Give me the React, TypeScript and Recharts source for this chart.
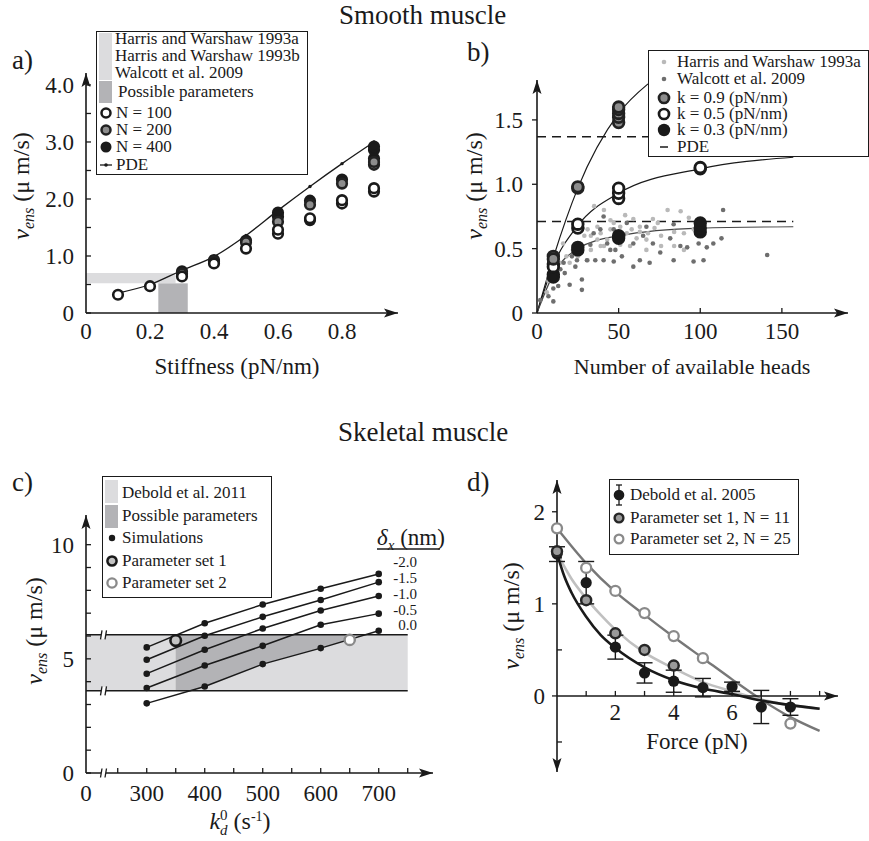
import React from 'react';
import { ComposedChart, Line, Scatter, Area, XAxis, YAxis, ReferenceArea, ErrorBar } from 'recharts';

const W = 869;
const H = 841;
const YW = 40;
const XH = 30;
const FONT = '"Liberation Serif", "Times New Roman", serif';
const INK = '#1a1a1a';
const LIGHT = '#dcdcde';
const DARK = '#b3b3b6';
const AXL = { stroke: INK, strokeWidth: 1.6 };

type P = [number, number];
const xy = (pts: P[]) => pts.map(([x, y]) => ({ x, y }));

// ---------- a) smooth muscle, stiffness ----------
const aXDom = [0, 0.975];
const aYDom = [0, 4.21];
const aXTicks = [0, 0.2, 0.4, 0.6, 0.8];
const aXLabels = ['0', '0.2', '0.4', '0.6', '0.8'];
const aYTicks = [0, 0.5, 1, 1.5, 2, 2.5, 3, 3.5, 4];
const aYLabels = ['0', '', '1.0', '', '2.0', '', '3.0', '', '4.0'];
const aExpX = [0, 0.28];
const aExpY = [0.52, 0.7];
const aPossX = [0.226, 0.318];
const aPde: P[] = [[0.1, 0.35], [0.2, 0.5], [0.3, 0.75], [0.4, 0.99], [0.5, 1.36], [0.6, 1.8], [0.7, 2.22], [0.8, 2.62], [0.9, 3.0]];
const aN100: P[] = [[0.1, 0.32], [0.2, 0.47], [0.3, 0.64], [0.4, 0.87], [0.5, 1.13], [0.6, 1.39], [0.6, 1.46], [0.7, 1.63], [0.7, 1.66], [0.8, 1.92], [0.8, 1.98], [0.9, 2.13], [0.9, 2.19]];
const aN200: P[] = [[0.3, 0.69], [0.4, 0.9], [0.5, 1.24], [0.6, 1.6], [0.7, 1.9], [0.8, 2.27], [0.9, 2.6], [0.9, 2.65]];
const aN400: P[] = [[0.3, 0.73], [0.4, 0.93], [0.5, 1.27], [0.6, 1.69], [0.6, 1.76], [0.7, 1.97], [0.8, 2.34], [0.9, 2.71], [0.9, 2.86], [0.9, 2.92]];

// ---------- b) smooth muscle, heads ----------
const bXDom = [0, 190.5];
const bYDom = [0, 1.81];
const bXTicks = [0, 50, 100, 150];
const bXLabels = ['0', '50', '100', '150'];
const bYTicks = [0, 0.5, 1, 1.5];
const bYLabels = ['0', '0.5', '1.0', '1.5'];
const bHarris: P[] = [
  [35, 0.83], [41, 0.8], [54, 0.76], [59, 0.73], [80, 0.8], [88, 0.79], [93, 0.74], [71, 0.73], [74, 0.7], [63, 0.67],
  [47, 0.7], [37, 0.67], [31, 0.65], [29, 0.6], [26, 0.54], [22, 0.49], [18, 0.44], [14, 0.39], [11, 0.34], [9, 0.3],
  [7, 0.25], [33, 0.6], [39, 0.62], [43, 0.57], [49, 0.6], [55, 0.62], [61, 0.58], [67, 0.57], [76, 0.6], [84, 0.63],
  [90, 0.62], [96, 0.65], [41, 0.52], [51, 0.53], [57, 0.52], [67, 0.49], [76, 0.52], [33, 0.49], [25, 0.44], [31, 0.41],
  [39, 0.52], [58, 0.65], [63, 0.63], [45, 0.65], [37, 0.57], [51, 0.67], [84, 0.52], [90, 0.49], [16, 0.54], [12, 0.41],
  [20, 0.39], [6, 0.16], [45, 0.72], [68, 0.62], [52, 0.58], [28, 0.66], [100, 0.6], [72, 0.66],
];
const bWalcott: P[] = [
  [2, 0.1], [7, 0.13], [10, 0.09], [10, 0.19], [13, 0.21], [11, 0.27], [17, 0.31], [20, 0.22], [23.5, 0.36], [27.5, 0.26],
  [30.6, 0.41], [35.7, 0.41], [40.8, 0.41], [44.9, 0.49], [47, 0.4], [52, 0.44], [59, 0.36], [63, 0.41], [69, 0.39], [75.5, 0.47],
  [83.7, 0.41], [87.8, 0.52], [95.9, 0.4], [102, 0.41], [104, 0.51], [108, 0.54], [113, 0.58], [114, 0.8], [141, 0.45], [99, 0.54],
  [92, 0.51], [81.6, 0.58], [71, 0.54], [65, 0.6], [59, 0.54], [53, 0.61], [48, 0.49], [43, 0.54], [38.8, 0.65], [34.7, 0.62],
  [32.7, 0.53], [26.5, 0.48], [24.5, 0.41], [21.4, 0.44], [16.3, 0.39], [14.3, 0.34], [27.5, 0.18], [8, 0.28], [98, 0.71], [100, 0.62],
  [83.7, 0.69], [67, 0.67], [55, 0.7], [47, 0.65], [40.8, 0.75],
];
const bK09: P[] = [[10, 0.44], [10, 0.42], [25, 0.97], [25, 0.98], [50, 1.48], [50, 1.52], [50, 1.55], [50, 1.58], [50, 1.6]];
const bK05: P[] = [[10, 0.38], [10, 0.36], [25, 0.66], [25, 0.69], [50, 0.89], [50, 0.93], [50, 0.97], [100, 1.12], [100, 1.13]];
const bK03: P[] = [[10, 0.3], [10, 0.28], [25, 0.49], [25, 0.51], [50, 0.58], [50, 0.6], [100, 0.63], [100, 0.66], [100, 0.7]];
const bFit09: P[] = [[0, 0], [10, 0.43], [25, 0.97], [50, 1.55], [68, 1.78]];
const bFit05: P[] = [[0, 0], [10, 0.37], [25, 0.68], [50, 0.93], [100, 1.12], [157, 1.21]];
const bFit03: P[] = [[0, 0], [10, 0.3], [25, 0.5], [50, 0.6], [100, 0.66], [157, 0.67]];
const bPdeHigh: P[] = [[0, 1.37], [100, 1.37]];
const bPdeLow: P[] = [[0, 0.71], [157, 0.71]];

// ---------- c) skeletal muscle, kd0 ----------
const cXDom = [195.3, 793.6];
const cYDom = [0, 11.3];
const cXTicks = [195.3, 250, 300, 350, 400, 450, 500, 550, 600, 650, 700, 750];
const cXLabels = ['0', '', '300', '', '400', '', '500', '', '600', '', '700', ''];
const cYTicks = [0, 1, 2, 3, 4, 5, 6, 7, 8, 9, 10];
const cYLabels = ['0', '', '', '', '', '5', '', '', '', '', '10'];
const cK = [300, 400, 500, 600, 700];
const cDelta = ['-2.0', '-1.5', '-1.0', '-0.5', '0.0'];
const cV = [
  [5.5, 6.56, 7.38, 8.07, 8.72],
  [4.96, 6.01, 6.84, 7.58, 8.36],
  [4.35, 5.4, 6.33, 7.12, 7.75],
  [3.72, 4.71, 5.57, 6.49, 6.98],
  [3.05, 3.79, 4.77, 5.47, 6.23],
];
const cBandX = [195.3, 750];
const cBand = [3.6, 6.05];
const cPossX = [350, 374, 400, 500, 600, 650];
const cPossLow = [3.6, 3.6, 3.79, 4.77, 5.47, 5.85];
const cSet1: P[] = [[350, 5.8]];
const cSet2: P[] = [[650, 5.83]];

// ---------- d) skeletal muscle, force ----------
const dXDom = [0, 9.63];
const dYDom = [-0.826, 2.345];
const dXTicks = [1, 2, 3, 4, 5, 6, 7, 8, 9];
const dXLabels = ['', '2', '', '4', '', '6', '', '', ''];
const dYTicks = [-0.5, 0, 0.5, 1, 1.5, 2];
const dYLabels = ['', '0', '', '1', '', '2'];
const dForce = [0, 1, 2, 3, 4, 5, 6, 7, 8];
const dDebold = [1.54, 1.23, 0.53, 0.25, 0.16, 0.09, 0.1, -0.12, -0.12];
const dDeboldErr = [0.08, 0.23, 0.13, 0.11, 0.12, 0.1, 0.05, 0.18, 0.09];
const dSet1: P[] = [[0, 1.57], [1, 1.04], [2, 0.68], [3, 0.5], [4, 0.33]];
const dSet2: P[] = [[0, 1.82], [1, 1.39], [2, 1.14], [3, 0.9], [4, 0.65], [5, 0.41], [8, -0.3]];
const dFitDebold: P[] = [[0, 1.55], [0.25, 1.3], [0.5, 1.12], [1, 0.86], [1.5, 0.66], [2, 0.52], [3, 0.31], [4, 0.17], [5, 0.08], [6, 0.02], [7, -0.05], [8, -0.1], [9, -0.14]];
const dFitSet1: P[] = [[0, 1.55], [0.5, 1.27], [1, 1.06], [1.5, 0.88], [2, 0.72], [3, 0.47], [4, 0.3], [5, 0.15], [6, 0.05], [7, -0.04], [8, -0.1], [9, -0.14]];
const dFitSet2: P[] = [[0, 1.82], [1, 1.44], [2, 1.13], [3, 0.88], [4, 0.64], [5, 0.41], [6, 0.18], [7, -0.04], [8, -0.23], [9, -0.38]];

// plot frames (pixel box of each plot area)
const FA = { l: 86, r: 398, t: 73, b: 313 };
const FB = { l: 537, r: 848, t: 80, b: 313 };
const FC = { l: 86, r: 433, t: 515, b: 773 };
const FD = { l: 557, r: 838, t: 480, b: 772 };
const dZeroY = FD.b - ((0 - dYDom[0]) / (dYDom[1] - dYDom[0])) * (FD.b - FD.t);
const cPix = (v: number) => FC.b - (v / cYDom[1]) * (FC.b - FC.t);

const xTick = (ticks: number[], labels: string[], m: number, marks: boolean, dmin: number) => (p: any) => {
  const v = p.payload.value;
  const i = ticks.indexOf(v);
  const lab = i >= 0 ? labels[i] : '';
  const ay = p.y - m;
  return (
    <g>
      {marks && v !== dmin && <line x1={p.x} x2={p.x} y1={ay} y2={ay - 5} stroke={INK} strokeWidth={1.3} />}
      {lab && (
        <text x={p.x} y={p.y} dy="0.71em" textAnchor="middle" fontFamily={FONT} fontSize={23} fill={INK}>
          {lab}
        </text>
      )}
    </g>
  );
};

const yTick = (ticks: number[], labels: string[], m: number, mode: 'in' | 'out' | 'mixed') => (p: any) => {
  const v = p.payload.value;
  const i = ticks.indexOf(v);
  const lab = i >= 0 ? labels[i] : '';
  const ax = p.x + m;
  const out = mode === 'out' || (mode === 'mixed' && lab !== '');
  return (
    <g>
      <line x1={out ? ax - 5 : ax} x2={out ? ax : ax + 5} y1={p.y} y2={p.y} stroke={INK} strokeWidth={1.3} />
      {lab && (
        <text x={p.x} y={p.y} dy="0.35em" textAnchor="end" fontFamily={FONT} fontSize={23} fill={INK}>
          {lab}
        </text>
      )}
    </g>
  );
};

const ring = (fill: string, stroke: string, r: number, sw: number) => (p: any) => (
  <circle cx={p.cx} cy={p.cy} r={r} fill={fill} stroke={stroke} strokeWidth={sw} />
);
const dot = (fill: string, r: number) => (p: any) => <circle cx={p.cx} cy={p.cy} r={r} fill={fill} />;

function Chart({ f, xh = XH, yw = YW, children }: any) {
  return (
    <div style={{ position: 'absolute', left: 0, top: 0 }}>
      <ComposedChart
        width={W}
        height={H}
        margin={{ left: f.l - yw, right: W - f.r, top: f.t, bottom: H - f.b - xh }}
      >
        {children}
      </ComposedChart>
    </div>
  );
}

function T({ x, y, s = 17, anchor = 'start', children, style }: any) {
  const tx = anchor === 'middle' ? 'translateX(-50%)' : anchor === 'end' ? 'translateX(-100%)' : undefined;
  const lh = s * 0.9;
  return (
    <div
      style={{
        position: 'absolute',
        left: x,
        top: y - lh / 2,
        fontSize: s,
        lineHeight: `${lh}px`,
        fontFamily: FONT,
        color: INK,
        whiteSpace: 'nowrap',
        transform: tx,
        ...style,
      }}
    >
      {children}
    </div>
  );
}

// rotated y-axis title, drawn as svg text
function VLabel({ x, y }: { x: number; y: number }) {
  return (
    <text
      x={x}
      y={y}
      transform={`rotate(-90 ${x} ${y})`}
      textAnchor="middle"
      dy="0.35em"
      fontFamily={FONT}
      fontSize={24}
      fill={INK}
    >
      <tspan fontStyle="italic">v</tspan>
      <tspan fontStyle="italic" fontSize={16} dy={5}>ens</tspan>
      <tspan dy={-5}>{' (\u03bc m/s)'}</tspan>
    </text>
  );
}

function Mk({ x, y, children }: any) {
  return (
    <svg style={{ position: 'absolute', left: x - 10, top: y - 12 }} width={20} height={24}>
      <g transform="translate(10,12)">{children}</g>
    </svg>
  );
}

function Box({ l, t, w, h }: any) {
  return (
    <div
      style={{
        position: 'absolute',
        left: l,
        top: t,
        width: w,
        height: h,
        border: `1.5px solid ${INK}`,
        background: '#fff',
        boxSizing: 'border-box',
      }}
    />
  );
}

const Sw = ({ l, t, w, h, c }: any) => (
  <div style={{ position: 'absolute', left: l, top: t, width: w, height: h, background: c }} />
);

const arrowUp = (x: number, y: number) => `${x},${y} ${x - 4.5},${y + 14} ${x},${y + 11} ${x + 4.5},${y + 14}`;
const arrowDown = (x: number, y: number) => `${x},${y} ${x - 4.5},${y - 14} ${x},${y - 11} ${x + 4.5},${y - 14}`;
const arrowRight = (x: number, y: number) => `${x},${y} ${x - 14},${y - 4.5} ${x - 11},${y} ${x - 14},${y + 4.5}`;

function Break({ x, y }: { x: number; y: number }) {
  return (
    <g>
      <rect x={x} y={y - 4} width={5} height={8} fill="#fff" />
      <line x1={x - 0.5} y1={y + 4.5} x2={x + 1} y2={y - 4.5} stroke={INK} strokeWidth={1.3} />
      <line x1={x + 4} y1={y + 4.5} x2={x + 5.5} y2={y - 4.5} stroke={INK} strokeWidth={1.3} />
    </g>
  );
}

export default function App() {
  const cBandRows = cBandX.map((x) => ({ x, r: cBand }));
  const cPossRows = cPossX.map((x, i) => ({ x, r: [cPossLow[i], cBand[1]] }));
  const dDeboldRows = dForce.map((x, i) => ({ x, y: dDebold[i], e: dDeboldErr[i] }));

  return (
    <div
      style={{
        position: 'absolute',
        left: 0,
        top: 0,
        width: W,
        height: H,
        background: '#fff',
        overflow: 'hidden',
        fontFamily: FONT,
      }}
    >
      {/* a) */}
      <Chart f={FA}>
        <XAxis type="number" dataKey="x" domain={aXDom} ticks={aXTicks} interval={0} height={XH} tickLine={false} tickSize={0} tickMargin={10} axisLine={AXL} tick={xTick(aXTicks, aXLabels, 10, false, aXDom[0])} />
        <YAxis type="number" dataKey="y" domain={aYDom} ticks={aYTicks} interval={0} width={YW} tickLine={false} tickSize={0} tickMargin={12} axisLine={AXL} tick={yTick(aYTicks, aYLabels, 12, 'in')} />
        <ReferenceArea x1={aExpX[0]} x2={aExpX[1]} y1={aExpY[0]} y2={aExpY[1]} fill={LIGHT} fillOpacity={1} stroke="none" />
        <ReferenceArea x1={aPossX[0]} x2={aPossX[1]} y1={0} y2={aExpY[0]} fill={DARK} fillOpacity={1} stroke="none" />
        <Line data={xy(aPde)} dataKey="y" type="monotone" stroke={INK} strokeWidth={1.3} dot={{ r: 1.7, fill: INK, stroke: 'none' }} isAnimationActive={false} />
        <Scatter data={xy(aN400)} shape={ring(INK, INK, 4.8, 2.6)} isAnimationActive={false} />
        <Scatter data={xy(aN200)} shape={ring('#8d8d8d', '#222', 4.8, 2.6)} isAnimationActive={false} />
        <Scatter data={xy(aN100)} shape={ring('#fff', INK, 4.8, 2.6)} isAnimationActive={false} />
      </Chart>

      {/* b) */}
      <Chart f={FB}>
        <XAxis type="number" dataKey="x" domain={bXDom} ticks={bXTicks} interval={0} height={XH} tickLine={false} tickSize={0} tickMargin={10} axisLine={AXL} tick={xTick(bXTicks, bXLabels, 10, true, bXDom[0])} />
        <YAxis type="number" dataKey="y" domain={bYDom} ticks={bYTicks} interval={0} width={YW} tickLine={false} tickSize={0} tickMargin={14} axisLine={AXL} tick={yTick(bYTicks, bYLabels, 14, 'out')} />
        <Scatter data={xy(bHarris)} shape={dot('#b9b9b9', 2.3)} isAnimationActive={false} />
        <Scatter data={xy(bWalcott)} shape={dot('#6e6e6e', 2.3)} isAnimationActive={false} />
        <Line data={xy(bPdeHigh)} dataKey="y" type="linear" stroke={INK} strokeWidth={1.5} strokeDasharray="9 6" dot={false} isAnimationActive={false} />
        <Line data={xy(bPdeLow)} dataKey="y" type="linear" stroke={INK} strokeWidth={1.5} strokeDasharray="9 6" dot={false} isAnimationActive={false} />
        <Line data={xy(bFit09)} dataKey="y" type="monotone" stroke={INK} strokeWidth={1.2} dot={false} isAnimationActive={false} />
        <Line data={xy(bFit05)} dataKey="y" type="monotone" stroke={INK} strokeWidth={1.2} dot={false} isAnimationActive={false} />
        <Line data={xy(bFit03)} dataKey="y" type="monotone" stroke="#444" strokeWidth={1.2} dot={false} isAnimationActive={false} />
        <Scatter data={xy(bK03)} shape={ring(INK, INK, 5.3, 2.8)} isAnimationActive={false} />
        <Scatter data={xy(bK05)} shape={ring('#fff', INK, 5.3, 2.8)} isAnimationActive={false} />
        <Scatter data={xy(bK09)} shape={ring('#8d8d8d', '#222', 5.3, 2.8)} isAnimationActive={false} />
      </Chart>

      {/* c) */}
      <Chart f={FC}>
        <XAxis type="number" dataKey="x" domain={cXDom} ticks={cXTicks} interval={0} height={XH} tickLine={false} tickSize={0} tickMargin={12} axisLine={AXL} tick={xTick(cXTicks, cXLabels, 12, true, cXDom[0])} />
        <YAxis type="number" dataKey="y" domain={cYDom} ticks={cYTicks} interval={0} width={YW} tickLine={false} tickSize={0} tickMargin={12} axisLine={AXL} tick={yTick(cYTicks, cYLabels, 12, 'in')} />
        <Area data={cBandRows} dataKey="r" type="linear" stroke="none" fill={LIGHT} fillOpacity={1} dot={false} activeDot={false} isAnimationActive={false} />
        <Area data={cPossRows} dataKey="r" type="linear" stroke="none" fill={DARK} fillOpacity={1} dot={false} activeDot={false} isAnimationActive={false} />
        {cBand.map((v, i) => (
          <Line key={`band${i}`} data={cBandX.map((x) => ({ x, y: v }))} dataKey="y" type="linear" stroke={INK} strokeWidth={1.5} dot={false} isAnimationActive={false} />
        ))}
        {cV.map((vals, i) => (
          <Line key={`d${i}`} data={cK.map((x, j) => ({ x, y: vals[j] }))} dataKey="y" type="linear" stroke={INK} strokeWidth={1.5} dot={{ r: 3.3, fill: INK, stroke: 'none' }} isAnimationActive={false} />
        ))}
        <Scatter data={xy(cSet1)} shape={ring('#c4c4c4', INK, 5.3, 2.6)} isAnimationActive={false} />
        <Scatter data={xy(cSet2)} shape={ring('#fff', '#8a8a8a', 5.1, 2.4)} isAnimationActive={false} />
      </Chart>

      {/* d) */}
      <Chart f={FD} xh={0}>
        <XAxis hide type="number" dataKey="x" domain={dXDom} />
        <YAxis type="number" dataKey="y" domain={dYDom} ticks={dYTicks} interval={0} width={YW} tickLine={false} tickSize={0} tickMargin={12} axisLine={AXL} tick={yTick(dYTicks, dYLabels, 12, 'mixed')} />
        <Line data={xy(dFitSet2)} dataKey="y" type="monotone" stroke="#777" strokeWidth={2.4} dot={false} isAnimationActive={false} />
        <Line data={xy(dFitSet1)} dataKey="y" type="monotone" stroke="#c0c0c0" strokeWidth={2.6} dot={false} isAnimationActive={false} />
        <Line data={xy(dFitDebold)} dataKey="y" type="monotone" stroke={INK} strokeWidth={2.6} dot={false} isAnimationActive={false} />
        <Scatter data={dDeboldRows} shape={dot(INK, 5.6)} isAnimationActive={false}>
          <ErrorBar dataKey="e" direction="y" width={8} stroke={INK} strokeWidth={1.4} />
        </Scatter>
        <Scatter data={xy(dSet1)} shape={ring('#9a9a9a', '#262626', 5, 2.5)} isAnimationActive={false} />
        <Scatter data={xy(dSet2)} shape={ring('#fff', '#8a8a8a', 5, 2.3)} isAnimationActive={false} />
      </Chart>
      <Chart f={{ ...FD, b: dZeroY }} yw={0}>
        <XAxis type="number" dataKey="x" domain={dXDom} allowDataOverflow ticks={dXTicks} interval={0} height={XH} tickLine={false} tickSize={0} tickMargin={8} axisLine={AXL} tick={xTick(dXTicks, dXLabels, 8, true, dXDom[0])} />
        <YAxis hide type="number" domain={[0, 1]} allowDataOverflow />
      </Chart>

      {/* arrows, axis breaks, rotated titles */}
      <svg style={{ position: 'absolute', left: 0, top: 0 }} width={W} height={H}>
        <polygon points={arrowUp(FA.l, FA.t)} fill={INK} />
        <polygon points={arrowRight(FA.r, FA.b)} fill={INK} />
        <polygon points={arrowUp(FB.l, FB.t)} fill={INK} />
        <polygon points={arrowRight(FB.r, FB.b)} fill={INK} />
        <polygon points={arrowUp(FC.l, FC.t)} fill={INK} />
        <polygon points={arrowRight(FC.r, FC.b)} fill={INK} />
        <polygon points={arrowUp(FD.l, FD.t)} fill={INK} />
        <polygon points={arrowDown(FD.l, FD.b)} fill={INK} />
        <polygon points={arrowRight(FD.r, dZeroY)} fill={INK} />
        <Break x={101} y={FC.b} />
        <Break x={101} y={cPix(cBand[0])} />
        <Break x={101} y={cPix(cBand[1])} />
        <line x1={377} x2={440} y1={549} y2={549} stroke={INK} strokeWidth={1.5} />
        <VLabel x={21} y={186} />
        <VLabel x={474} y={186} />
        <VLabel x={34} y={631} />
        <VLabel x={511} y={616} />
        <text x={240} y={829} textAnchor="middle" fontFamily={FONT} fontSize={24} fill={INK}>
          <tspan fontStyle="italic">k</tspan>
          <tspan fontSize={15} dy={-9}>0</tspan>
          <tspan fontSize={15} fontStyle="italic" dx={-7.5} dy={15}>d</tspan>
          <tspan dy={-6}>{' (s'}</tspan>
          <tspan fontSize={14} dy={-8}>-1</tspan>
          <tspan dy={8}>)</tspan>
        </text>
      </svg>

      {/* titles */}
      <T x={339} y={15} s={27}>Smooth muscle</T>
      <T x={338} y={432} s={27}>Skeletal muscle</T>
      <T x={12} y={60} s={27}>a)</T>
      <T x={467} y={52} s={27}>b)</T>
      <T x={12} y={482} s={27}>c)</T>
      <T x={467} y={482} s={27}>d)</T>

      {/* axis labels */}
      <T x={237} y={367} s={23} anchor="middle">Stiffness (pN/nm)</T>
      <T x={692} y={367} s={22} anchor="middle">Number of available heads</T>
      <T x={697} y={742} s={23} anchor="middle">Force (pN)</T>

      {/* c) delta labels */}
      <T x={377} y={538} s={23}>
        <i>δ</i>
        <span style={{ fontSize: 15, fontStyle: 'italic', position: 'relative', top: 5 }}>x</span>
        {' (nm)'}
      </T>
      {cDelta.map((d, i) => (
        <T key={d} x={417} y={563 + i * 15.8} s={15} anchor="end">
          {d}
        </T>
      ))}

      {/* legend a */}
      <Box l={96} t={31} w={212} h={144} />
      <Sw l={99} t={33} w={13} h={47} c={LIGHT} />
      <Sw l={99} t={81} w={13} h={22} c={DARK} />
      <T x={115} y={39}>Harris and Warshaw 1993a</T>
      <T x={115} y={56}>Harris and Warshaw 1993b</T>
      <T x={115} y={73}>Walcott et al. 2009</T>
      <T x={118} y={92}>Possible parameters</T>
      <Mk x={106} y={113}><circle r={4.5} fill="#fff" stroke={INK} strokeWidth={2.5} /></Mk>
      <Mk x={106} y={130}><circle r={4.5} fill="#8d8d8d" stroke="#222" strokeWidth={2.5} /></Mk>
      <Mk x={106} y={147}><circle r={5.5} fill={INK} /></Mk>
      <Mk x={106} y={165}>
        <line x1={-6} x2={6} y1={0} y2={0} stroke={INK} strokeWidth={1.3} />
        <circle r={1.8} fill={INK} />
      </Mk>
      <T x={116} y={113}>N = 100</T>
      <T x={116} y={130}>N = 200</T>
      <T x={116} y={147}>N = 400</T>
      <T x={116} y={165}>PDE</T>

      {/* legend b */}
      <Box l={648} t={50} w={221} h={107} />
      <Mk x={664} y={62}><circle r={2.3} fill="#b9b9b9" /></Mk>
      <Mk x={664} y={79}><circle r={2.3} fill="#6e6e6e" /></Mk>
      <Mk x={664} y={98}><circle r={5} fill="#8d8d8d" stroke="#222" strokeWidth={2.7} /></Mk>
      <Mk x={664} y={114}><circle r={5} fill="#fff" stroke={INK} strokeWidth={2.7} /></Mk>
      <Mk x={664} y={130}><circle r={6.2} fill={INK} /></Mk>
      <Mk x={664} y={147}><line x1={-4} x2={4} y1={0} y2={0} stroke={INK} strokeWidth={1.5} /></Mk>
      <T x={677} y={62}>Harris and Warshaw 1993a</T>
      <T x={677} y={79}>Walcott et al. 2009</T>
      <T x={677} y={98}>k = 0.9 (pN/nm)</T>
      <T x={677} y={114}>k = 0.5 (pN/nm)</T>
      <T x={677} y={130}>k = 0.3 (pN/nm)</T>
      <T x={677} y={147}>PDE</T>

      {/* legend c */}
      <Box l={102} t={476} w={170} h={122} />
      <Sw l={105} t={480} w={13} h={23} c={LIGHT} />
      <Sw l={105} t={505} w={13} h={23} c={DARK} />
      <Mk x={112} y={538}><circle r={3.2} fill={INK} /></Mk>
      <Mk x={112} y={561}><circle r={4.6} fill="#c4c4c4" stroke={INK} strokeWidth={2.5} /></Mk>
      <Mk x={112} y={583}><circle r={4.6} fill="#fff" stroke="#8a8a8a" strokeWidth={2.3} /></Mk>
      <T x={122} y={493}>Debold et al. 2011</T>
      <T x={122} y={516}>Possible parameters</T>
      <T x={122} y={538}>Simulations</T>
      <T x={122} y={561}>Parameter set 1</T>
      <T x={122} y={583}>Parameter set 2</T>

      {/* legend d */}
      <Box l={609} t={479} w={190} h={76} />
      <Mk x={619} y={495}>
        <line x1={0} x2={0} y1={-10} y2={10} stroke={INK} strokeWidth={1.3} />
        <line x1={-3} x2={3} y1={-10} y2={-10} stroke={INK} strokeWidth={1.3} />
        <line x1={-3} x2={3} y1={10} y2={10} stroke={INK} strokeWidth={1.3} />
        <circle r={5.3} fill={INK} />
      </Mk>
      <Mk x={619} y={518}><circle r={4.4} fill="#9a9a9a" stroke="#262626" strokeWidth={2.4} /></Mk>
      <Mk x={619} y={539}><circle r={4.4} fill="#fff" stroke="#8a8a8a" strokeWidth={2.2} /></Mk>
      <T x={630} y={495}>Debold et al. 2005</T>
      <T x={630} y={518}>Parameter set 1, N = 11</T>
      <T x={630} y={539}>Parameter set 2, N = 25</T>
    </div>
  );
}
